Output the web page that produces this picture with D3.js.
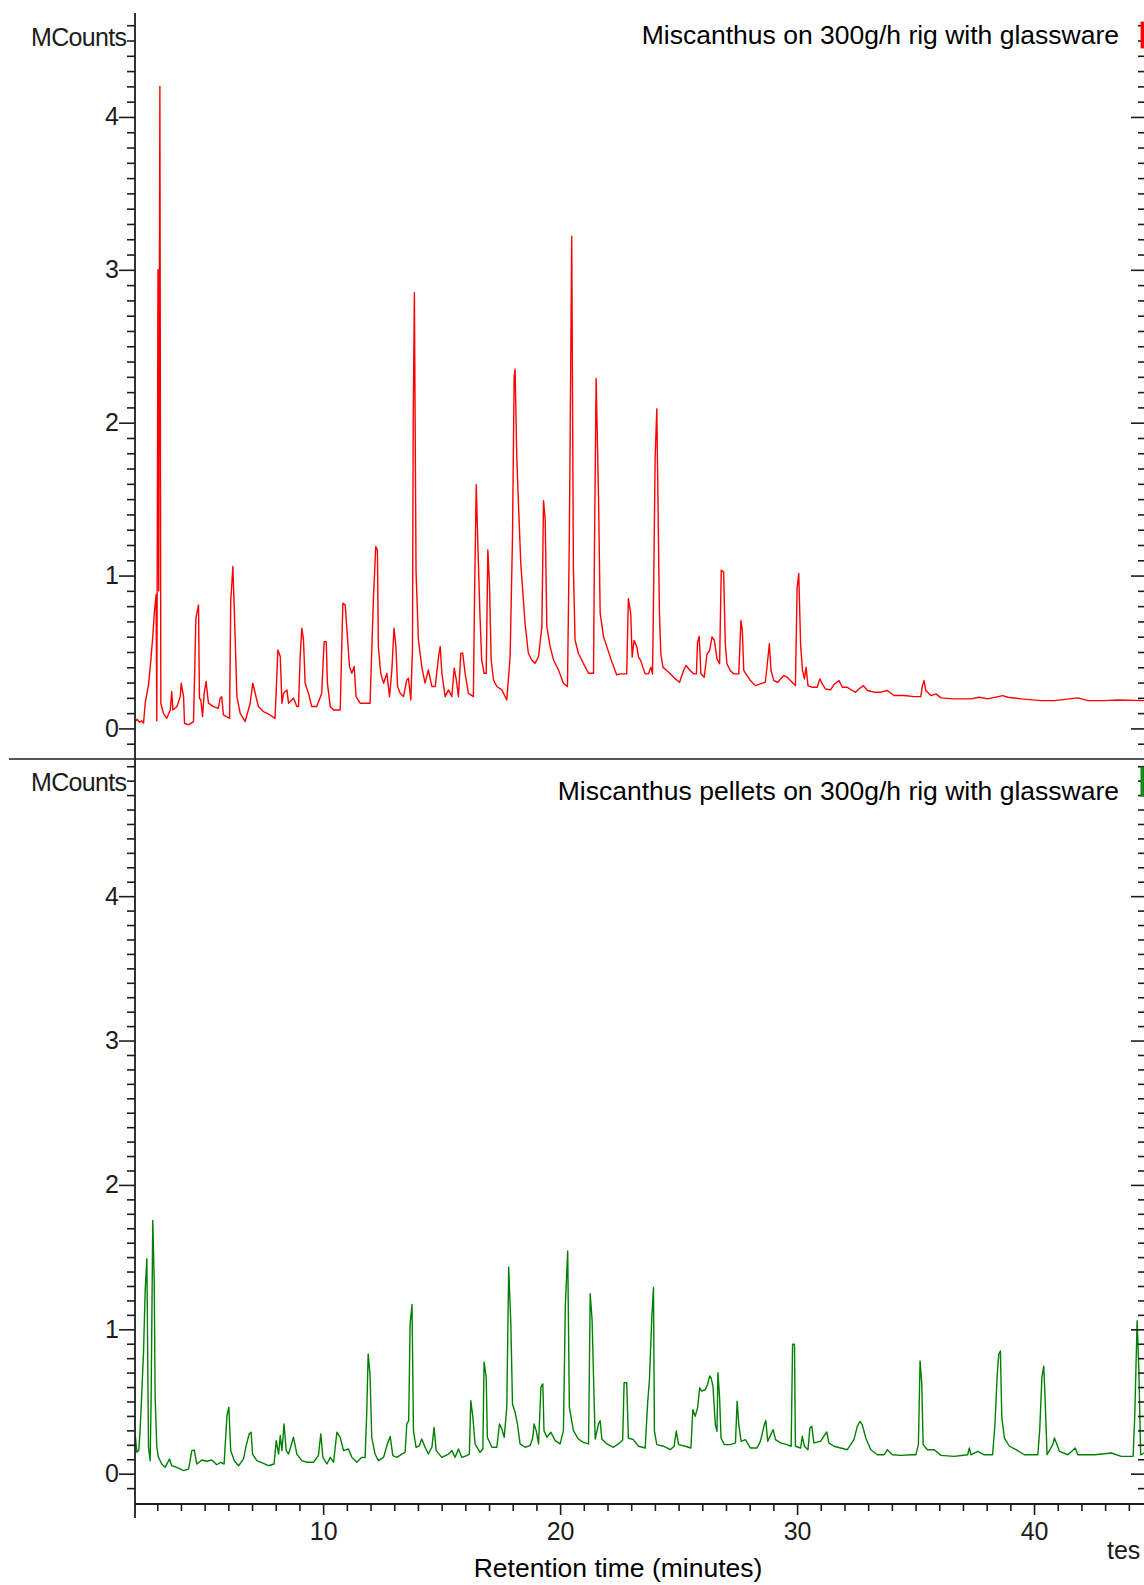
<!DOCTYPE html>
<html>
<head>
<meta charset="utf-8">
<script src="https://cdn.jsdelivr.net/npm/d3@7"></script>
<style>
  html, body { margin: 0; padding: 0; background: #fff; }
  svg { display: block; }
  text { font-family: "Liberation Sans", Arial, sans-serif; }
</style>
</head>
<body>
<svg id="chart" width="1144" height="1585"></svg>
<script>
// Retention time (minutes) / signal (MCounts) pairs for each run
const miscanthusTrace = [
[2.07,0.045],[2.15,0.06],[2.25,0.04],[2.35,0.05],[2.42,0.034],[2.49,0.165],[2.63,0.285],[2.73,0.448],[2.81,0.601],[2.88,0.765],[2.95,0.874],[2.98,0.05],[3.03,3.0],[3.06,0.9],[3.11,4.2],[3.15,0.165],[3.26,0.099],[3.40,0.066],[3.55,0.121],[3.61,0.241],[3.66,0.121],[3.83,0.143],[3.97,0.208],[4.01,0.296],[4.11,0.208],[4.15,0.034],[4.32,0.023],[4.53,0.045],[4.63,0.721],[4.74,0.808],[4.78,0.197],[4.84,0.186],[4.91,0.077],[4.98,0.23],[5.06,0.307],[5.16,0.165],[5.37,0.143],[5.58,0.132],[5.65,0.197],[5.72,0.208],[5.79,0.088],[6.05,0.066],[6.10,0.83],[6.19,1.059],[6.29,0.579],[6.36,0.208],[6.50,0.099],[6.71,0.045],[6.92,0.165],[7.03,0.296],[7.13,0.23],[7.27,0.143],[7.48,0.11],[7.76,0.088],[7.97,0.066],[8.09,0.514],[8.19,0.47],[8.26,0.165],[8.33,0.23],[8.47,0.252],[8.54,0.165],[8.75,0.197],[8.89,0.143],[8.96,0.143],[9.03,0.47],[9.10,0.655],[9.17,0.579],[9.24,0.296],[9.38,0.23],[9.52,0.143],[9.73,0.143],[9.94,0.23],[10.04,0.568],[10.13,0.568],[10.18,0.296],[10.30,0.143],[10.44,0.121],[10.72,0.121],[10.83,0.819],[10.93,0.808],[11.03,0.59],[11.11,0.405],[11.21,0.361],[11.31,0.405],[11.39,0.208],[11.56,0.165],[11.70,0.165],[11.98,0.165],[12.12,0.841],[12.22,1.19],[12.29,1.168],[12.33,0.535],[12.43,0.361],[12.55,0.296],[12.69,0.361],[12.80,0.208],[12.90,0.383],[12.99,0.655],[13.07,0.535],[13.14,0.274],[13.25,0.23],[13.39,0.208],[13.53,0.317],[13.60,0.328],[13.70,0.186],[13.77,0.525],[13.80,2.0],[13.85,2.85],[13.92,1.026],[14.02,0.579],[14.16,0.405],[14.30,0.296],[14.44,0.383],[14.59,0.274],[14.73,0.274],[14.87,0.47],[14.94,0.535],[15.01,0.361],[15.15,0.208],[15.29,0.252],[15.43,0.208],[15.53,0.394],[15.61,0.328],[15.71,0.208],[15.81,0.492],[15.89,0.492],[15.99,0.361],[16.13,0.23],[16.34,0.208],[16.39,0.874],[16.46,1.594],[16.53,1.19],[16.62,0.732],[16.69,0.448],[16.79,0.361],[16.88,0.361],[16.95,1.168],[17.02,0.939],[17.09,0.448],[17.19,0.317],[17.33,0.274],[17.54,0.252],[17.75,0.186],[17.89,0.47],[17.99,1.245],[18.06,2.3],[18.10,2.35],[18.17,1.779],[18.24,1.474],[18.34,1.081],[18.42,0.906],[18.52,0.688],[18.66,0.492],[18.80,0.448],[18.94,0.426],[19.09,0.47],[19.23,0.666],[19.30,1.49],[19.37,1.364],[19.44,0.666],[19.58,0.535],[19.72,0.448],[19.93,0.383],[20.14,0.296],[20.31,0.274],[20.39,1.255],[20.49,3.22],[20.56,1.059],[20.63,0.579],[20.77,0.492],[20.98,0.426],[21.20,0.361],[21.41,0.361],[21.45,1.19],[21.52,2.29],[21.62,1.517],[21.69,0.754],[21.83,0.601],[21.97,0.535],[22.18,0.437],[22.39,0.35],[22.53,0.357],[22.81,0.357],[22.88,0.849],[22.98,0.751],[23.04,0.466],[23.12,0.576],[23.24,0.532],[23.31,0.466],[23.40,0.444],[23.49,0.401],[23.59,0.357],[23.73,0.357],[23.83,0.401],[23.90,0.357],[23.94,0.827],[24.01,1.768],[24.08,2.09],[24.19,0.762],[24.25,0.488],[24.34,0.401],[24.50,0.379],[24.65,0.357],[24.86,0.324],[25.04,0.302],[25.21,0.379],[25.31,0.412],[25.49,0.379],[25.63,0.357],[25.75,0.357],[25.80,0.565],[25.87,0.602],[25.94,0.357],[26.08,0.335],[26.20,0.488],[26.31,0.51],[26.41,0.598],[26.51,0.576],[26.62,0.455],[26.73,0.423],[26.80,1.035],[26.90,1.024],[26.97,0.554],[27.04,0.423],[27.18,0.379],[27.32,0.357],[27.54,0.357],[27.63,0.707],[27.69,0.641],[27.75,0.379],[27.89,0.346],[28.03,0.313],[28.24,0.28],[28.45,0.291],[28.66,0.302],[28.75,0.433],[28.83,0.554],[28.90,0.379],[29.02,0.313],[29.19,0.302],[29.30,0.324],[29.44,0.346],[29.58,0.335],[29.79,0.302],[29.93,0.28],[30.00,0.915],[30.07,1.013],[30.15,0.543],[30.23,0.379],[30.31,0.324],[30.38,0.401],[30.46,0.28],[30.64,0.269],[30.85,0.269],[30.96,0.324],[31.06,0.291],[31.20,0.258],[31.41,0.252],[31.58,0.291],[31.77,0.313],[31.91,0.269],[32.12,0.269],[32.33,0.248],[32.47,0.237],[32.61,0.258],[32.80,0.28],[32.97,0.248],[33.25,0.237],[33.53,0.237],[33.81,0.248],[34.09,0.215],[34.52,0.215],[34.94,0.208],[35.22,0.208],[35.29,0.28],[35.36,0.313],[35.43,0.248],[35.65,0.215],[35.86,0.226],[36.07,0.2],[36.63,0.193],[37.34,0.193],[37.69,0.204],[38.04,0.193],[38.68,0.215],[38.89,0.204],[39.45,0.193],[40.30,0.182],[40.86,0.182],[41.85,0.2],[42.27,0.182],[42.98,0.182],[43.54,0.186],[44.64,0.182]
];

const pelletTrace = [
[2.07,0.264],[2.14,0.148],[2.22,0.16],[2.28,0.31],[2.35,0.576],[2.42,0.841],[2.49,1.269],[2.56,1.489],[2.63,0.183],[2.70,0.09],[2.74,0.518],[2.81,1.754],[2.87,1.338],[2.91,0.53],[2.98,0.183],[3.05,0.113],[3.19,0.067],[3.33,0.044],[3.52,0.102],[3.61,0.055],[3.83,0.044],[4.11,0.021],[4.32,0.032],[4.46,0.16],[4.56,0.164],[4.67,0.067],[4.88,0.095],[5.09,0.086],[5.30,0.095],[5.51,0.062],[5.68,0.079],[5.82,0.067],[5.94,0.402],[6.02,0.46],[6.10,0.16],[6.25,0.09],[6.43,0.055],[6.64,0.102],[6.75,0.194],[6.88,0.275],[6.96,0.287],[7.02,0.136],[7.20,0.09],[7.48,0.072],[7.69,0.055],[7.93,0.067],[8.02,0.229],[8.12,0.136],[8.19,0.264],[8.26,0.16],[8.35,0.344],[8.44,0.16],[8.54,0.136],[8.75,0.252],[8.89,0.136],[9.10,0.09],[9.31,0.079],[9.59,0.079],[9.80,0.125],[9.90,0.275],[9.99,0.113],[10.16,0.067],[10.30,0.113],[10.44,0.079],[10.58,0.287],[10.72,0.252],[10.86,0.16],[11.07,0.171],[11.21,0.113],[11.42,0.079],[11.63,0.113],[11.77,0.113],[11.84,0.425],[11.90,0.83],[11.98,0.68],[12.05,0.252],[12.19,0.136],[12.33,0.09],[12.55,0.113],[12.71,0.206],[12.83,0.257],[12.94,0.125],[13.11,0.113],[13.32,0.136],[13.46,0.148],[13.53,0.344],[13.61,0.367],[13.67,1.038],[13.75,1.172],[13.81,0.298],[13.92,0.183],[14.06,0.194],[14.16,0.24],[14.30,0.183],[14.44,0.136],[14.59,0.183],[14.68,0.321],[14.77,0.16],[15.01,0.113],[15.29,0.136],[15.43,0.16],[15.57,0.113],[15.71,0.171],[15.85,0.113],[16.06,0.125],[16.17,0.136],[16.23,0.506],[16.32,0.39],[16.41,0.206],[16.62,0.148],[16.74,0.171],[16.79,0.772],[16.88,0.668],[16.93,0.252],[17.12,0.183],[17.33,0.183],[17.44,0.344],[17.54,0.31],[17.64,0.252],[17.75,0.46],[17.83,1.431],[17.92,1.038],[17.99,0.483],[18.10,0.425],[18.20,0.344],[18.31,0.206],[18.52,0.183],[18.73,0.194],[18.85,0.252],[18.90,0.344],[18.99,0.298],[19.09,0.206],[19.19,0.6],[19.27,0.622],[19.32,0.298],[19.44,0.252],[19.61,0.287],[19.79,0.229],[20.00,0.206],[20.14,0.298],[20.22,1.165],[20.32,1.542],[20.39,0.46],[20.56,0.298],[20.77,0.24],[20.98,0.217],[21.20,0.206],[21.27,1.246],[21.35,1.061],[21.41,0.668],[21.48,0.24],[21.62,0.344],[21.69,0.367],[21.76,0.24],[21.97,0.206],[22.25,0.183],[22.46,0.206],[22.64,0.233],[22.70,0.63],[22.81,0.63],[22.88,0.247],[23.09,0.236],[23.31,0.19],[23.59,0.178],[23.69,0.479],[23.77,0.653],[23.87,1.082],[23.94,1.29],[23.98,0.294],[24.08,0.201],[24.36,0.19],[24.65,0.166],[24.81,0.19],[24.90,0.294],[25.00,0.201],[25.28,0.19],[25.52,0.178],[25.60,0.444],[25.70,0.398],[25.80,0.456],[25.89,0.595],[25.98,0.572],[26.13,0.583],[26.22,0.618],[26.31,0.676],[26.37,0.665],[26.45,0.606],[26.55,0.34],[26.62,0.294],[26.66,0.7],[26.73,0.525],[26.79,0.247],[26.93,0.201],[27.18,0.201],[27.40,0.213],[27.47,0.502],[27.54,0.34],[27.64,0.224],[27.82,0.236],[28.03,0.178],[28.31,0.178],[28.45,0.224],[28.62,0.34],[28.68,0.368],[28.76,0.224],[28.99,0.305],[29.09,0.236],[29.30,0.213],[29.58,0.201],[29.75,0.19],[29.81,0.896],[29.89,0.896],[29.93,0.19],[30.15,0.178],[30.22,0.259],[30.31,0.19],[30.46,0.166],[30.54,0.317],[30.62,0.328],[30.71,0.213],[30.99,0.224],[31.25,0.289],[31.34,0.213],[31.56,0.19],[31.84,0.178],[32.12,0.166],[32.40,0.236],[32.54,0.328],[32.66,0.363],[32.75,0.34],[32.90,0.247],[33.11,0.166],[33.39,0.131],[33.67,0.131],[33.81,0.166],[34.02,0.131],[34.38,0.127],[34.80,0.131],[35.01,0.131],[35.12,0.201],[35.19,0.78],[35.26,0.63],[35.32,0.201],[35.50,0.166],[35.79,0.166],[36.07,0.127],[36.63,0.12],[37.20,0.131],[37.27,0.178],[37.34,0.131],[37.62,0.155],[37.90,0.131],[38.25,0.131],[38.35,0.34],[38.44,0.665],[38.51,0.827],[38.58,0.85],[38.64,0.386],[38.75,0.247],[38.96,0.19],[39.24,0.166],[39.59,0.131],[40.16,0.131],[40.24,0.305],[40.33,0.665],[40.41,0.745],[40.47,0.502],[40.55,0.131],[40.79,0.201],[40.86,0.247],[40.97,0.201],[41.07,0.155],[41.43,0.131],[41.74,0.178],[41.85,0.131],[42.56,0.131],[43.26,0.143],[43.68,0.12],[44.18,0.12],[44.25,0.398],[44.35,1.059],[44.42,0.734],[44.50,0.131],[44.64,0.143]
];

const panelTitles = ["Miscanthus on 300g/h rig with glassware", "Miscanthus pellets on 300g/h rig with glassware"];
const yTickLabels = [0, 1, 2, 3, 4];
const xTickLabels = [10, 20, 30, 40];
const yUnit = "MCounts";
const xTitle = "Retention time (minutes)";

const svg = d3.select("#chart");
const ink = "#1c1c1c";
const tickFont = 25;

const x = d3.scaleLinear().domain([2.06, 44.64]).range([135, 1144]);
const panels = [
  { data: miscanthusTrace, colour: "#ff0000", title: panelTitles[0],
    y: d3.scaleLinear().domain([-0.2, 4.68]).range([759, 13]),
    minorTop: 4.6, unitY: 46, titleY: 44, markY: [22, 48], mark: "#ff0000", markStroke: "#ff0000" },
  { data: pelletTrace, colour: "#008000", title: panelTitles[1],
    y: d3.scaleLinear().domain([-0.21, 4.95]).range([1504, 759]),
    minorTop: 4.9, unitY: 791, titleY: 800, markY: [767, 796], mark: "#11a011", markStroke: "#006000" }
];

const trace = (y) => d3.line().x(d => x(d[0])).y(d => y(d[1])).curve(d3.curveLinear);

panels.forEach((p, i) => {
  const [y0, y1] = p.y.range();
  const clipId = "clip" + i;
  svg.append("clipPath").attr("id", clipId)
    .append("rect").attr("x", x.range()[0]).attr("y", y1)
    .attr("width", x.range()[1] - x.range()[0]).attr("height", y0 - y1);

  svg.append("path")
    .datum(p.data)
    .attr("clip-path", `url(#${clipId})`)
    .attr("fill", "none")
    .attr("stroke", p.colour)
    .attr("stroke-width", 1.4)
    .attr("stroke-linejoin", "round")
    .attr("d", trace(p.y));

  const minors = d3.range(-1, Math.round(p.minorTop * 10) + 1).map(k => k / 10)
    .filter(v => v > p.y.domain()[0] + 0.05 && !yTickLabels.includes(v));

  // left axis: minor and labelled major ticks
  const left = svg.append("g").attr("transform", `translate(${x.range()[0]},0)`);
  left.append("g").call(d3.axisLeft(p.y).tickValues(minors).tickSize(8).tickFormat(""));
  left.append("g").call(d3.axisLeft(p.y).tickValues(yTickLabels).tickSize(16).tickPadding(0).tickFormat(d3.format("d")));

  // right edge ticks, pointing inward
  const right = svg.append("g").attr("transform", `translate(${x.range()[1]},0)`);
  right.append("g").call(d3.axisLeft(p.y).tickValues(minors).tickSize(6).tickFormat(""));
  right.append("g").call(d3.axisLeft(p.y).tickValues(yTickLabels).tickSize(13).tickFormat(""));

  svg.append("text")
    .attr("x", 127).attr("y", p.unitY)
    .attr("text-anchor", "end")
    .attr("font-size", tickFont)
    .attr("textLength", 96)
    .attr("fill", ink)
    .text(yUnit);

  svg.append("text")
    .attr("x", 1119).attr("y", p.titleY)
    .attr("text-anchor", "end")
    .attr("font-size", 26.5)
    .attr("fill", "#000")
    .text(p.title);

  svg.append("rect")
    .attr("x", 1141).attr("y", p.markY[0])
    .attr("width", 3).attr("height", p.markY[1] - p.markY[0])
    .attr("fill", p.mark).attr("stroke", p.markStroke).attr("stroke-width", 0.8);
});

// time axis under the lower panel
const bottomY = panels[1].y.range()[0];
const xa = svg.append("g").attr("transform", `translate(0,${bottomY})`);
xa.append("g").call(d3.axisBottom(x).tickValues(d3.range(3, 45).filter(t => t % 10 !== 0)).tickSize(7).tickFormat(""));
xa.append("g").call(d3.axisBottom(x).tickValues(xTickLabels).tickSize(11).tickPadding(7).tickFormat(d3.format("d")));

svg.selectAll(".domain").remove();
svg.selectAll(".tick line").attr("stroke", ink).attr("stroke-width", 1.6);
svg.selectAll(".tick text").attr("font-size", tickFont).attr("fill", ink)
  .attr("font-family", "'Liberation Sans', Arial, sans-serif");

// frame lines
svg.append("line").attr("x1", x.range()[0]).attr("x2", x.range()[0])
  .attr("y1", 13).attr("y2", bottomY + 14).attr("stroke", ink).attr("stroke-width", 1.8);
svg.append("line").attr("x1", 9).attr("x2", 1144)
  .attr("y1", 759).attr("y2", 759).attr("stroke", ink).attr("stroke-width", 1.6);
svg.append("line").attr("x1", x.range()[0]).attr("x2", 1144)
  .attr("y1", bottomY).attr("y2", bottomY).attr("stroke", ink).attr("stroke-width", 1.8);

svg.append("text")
  .attr("x", 1107).attr("y", 1559)
  .attr("font-size", tickFont).attr("fill", ink)
  .text("tes");

svg.append("text")
  .attr("x", 618).attr("y", 1577)
  .attr("text-anchor", "middle")
  .attr("font-size", 26.5).attr("fill", "#000")
  .text(xTitle);
</script>
</body>
</html>
